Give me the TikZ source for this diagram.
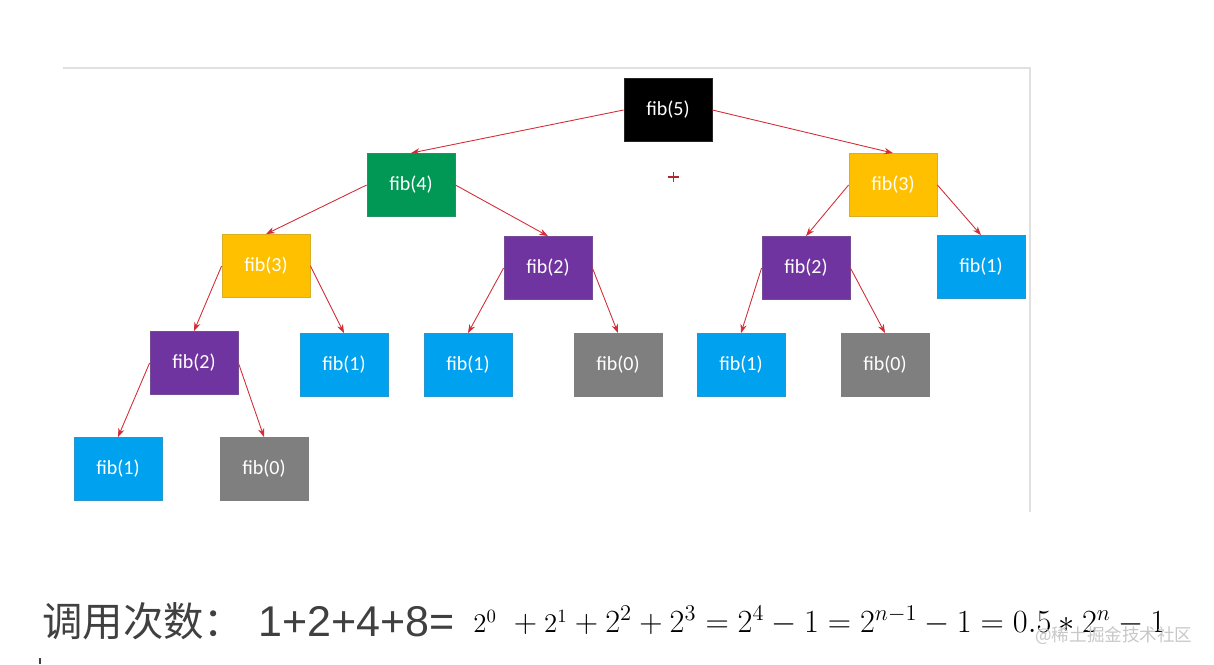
\documentclass[tikz,border=0pt]{standalone}
\usepackage{graphicx}
\usepackage{fontspec}
\newfontfamily\boxfont{Carlito}
\newfontfamily\cjkfont{Noto Sans CJK SC}
\newfontfamily\digitfont{Liberation Sans}
\usetikzlibrary{arrows.meta}

\definecolor{fibblack}{RGB}{0,0,0}
\definecolor{fibgreen}{RGB}{0,152,84}
\definecolor{fibyellow}{RGB}{255,192,0}
\definecolor{fibpurple}{RGB}{112,52,160}
\definecolor{fibblue}{RGB}{0,162,240}
\definecolor{fibgray}{RGB}{127,127,127}
\definecolor{callred}{RGB}{210,45,55}
\definecolor{textgray}{RGB}{64,64,64}

\begin{document}
\begin{tikzpicture}[x=0.02cm,y=-0.02cm,
  fib/.style={draw=#1!70!gray, fill=#1, line width=0.5pt,
    minimum width=1.76cm, minimum height=1.26cm, inner sep=0pt,
    text=white, font=\boxfont\fontsize{11.4}{13}\selectfont},
  call/.style={-{Stealth[length=5pt,width=3.6pt]}, draw=callred, line width=0.5pt},
  frame/.style={draw=black!12, line width=1.1pt}]

\useasboundingbox (0,0) rectangle (1214,664);

\draw[frame] (63,68) -- (1030,68) -- (1030,512);

\node[fib=fibblack]  (n5)  at (668,110) {fib(5)};
\node[fib=fibgreen]  (n4)  at (411,185) {fib(4)};
\node[fib=fibyellow] (n3r) at (893,185) {fib(3)};
\node[fib=fibyellow] (n3l) at (266,266) {fib(3)};
\node[fib=fibpurple] (n2m) at (548,268) {fib(2)};
\node[fib=fibpurple] (n2r) at (806,268) {fib(2)};
\node[fib=fibblue]   (n1r) at (981,267) {fib(1)};
\node[fib=fibpurple] (n2l) at (194,363) {fib(2)};
\node[fib=fibblue]   (n1a) at (344,365) {fib(1)};
\node[fib=fibblue]   (n1b) at (468,365) {fib(1)};
\node[fib=fibgray]   (n0a) at (618,365) {fib(0)};
\node[fib=fibblue]   (n1c) at (741,365) {fib(1)};
\node[fib=fibgray]   (n0b) at (885,365) {fib(0)};
\node[fib=fibblue]   (n1d) at (118,469) {fib(1)};
\node[fib=fibgray]   (n0c) at (264,469) {fib(0)};

\draw[call] (n5.west) -- (n4.north);
\draw[call] (n5.east) -- (n3r.north);
\draw[call] (n4.west) -- (n3l.north);
\draw[call] (n4.east) -- (n2m.north);
\draw[call] (n3r.west) -- (n2r.north);
\draw[call] (n3r.east) -- (n1r.north);
\draw[call] (n3l.west) -- (n2l.north);
\draw[call] (n3l.east) -- (n1a.north);
\draw[call] (n2m.west) -- (n1b.north);
\draw[call] (n2m.east) -- (n0a.north);
\draw[call] (n2r.west) -- (n1c.north);
\draw[call] (n2r.east) -- (n0b.north);
\draw[call] (n2l.west) -- (n1d.north);
\draw[call] (n2l.east) -- (n0c.north);

\draw[callred!85!black, line width=0.7pt] (668,177) -- (679,177) (673.5,172) -- (673.5,182);

\node[anchor=base west, inner sep=0pt, text=textgray,
  font=\cjkfont\fontsize{23}{26}\selectfont] (label) at (42,636) {调用次数：};
\node[anchor=base west, inner sep=0pt, text=textgray,
  font=\digitfont\fontsize{24.5}{28}\selectfont] (sum) at (258,636) {1+2+4+8=};
\node[anchor=base west, inner sep=0pt, font=\fontsize{17.28}{22}\selectfont] (formula) at (473,632)
  {\scalebox{1.065}{$\mbox{\fontsize{14.4}{18}\selectfont$2^0$}\ +\mbox{\fontsize{14.4}{18}\selectfont$2^1$}+2^2+2^3=2^4-1=2^{n-1}-1=0.5*2^n-1$}};
\node[anchor=base west, inner sep=0pt, text=black!22,
  font=\cjkfont\fontsize{10}{12}\selectfont] (mark) at (1035,641) {@稀土掘金技术社区};

\draw[textgray, line width=0.6pt] (40,658) -- (40,664);
\end{tikzpicture}
\end{document}
